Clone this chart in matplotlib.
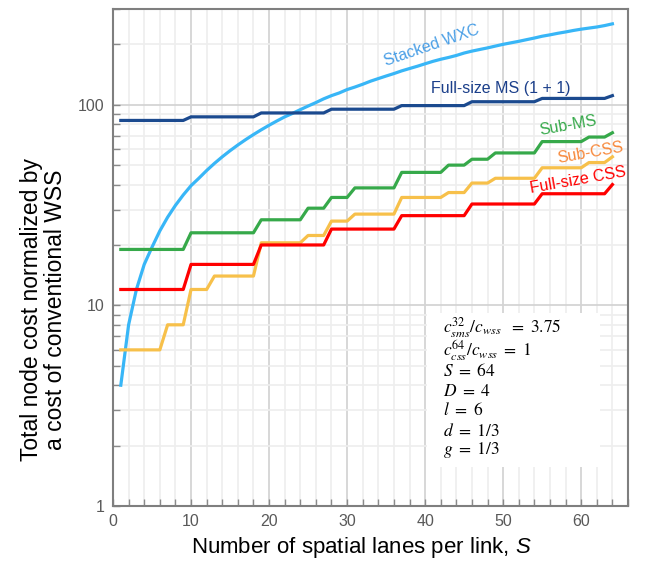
import matplotlib
matplotlib.use("Agg")
import matplotlib.pyplot as plt
from matplotlib.ticker import MultipleLocator, LogLocator, NullFormatter, FixedLocator
from matplotlib.patches import Rectangle

plt.rcParams['font.family'] = ['Liberation Sans', 'DejaVu Sans']
plt.rcParams['mathtext.fontset'] = 'custom'
plt.rcParams['mathtext.it'] = 'Liberation Sans:italic'
plt.rcParams['mathtext.rm'] = 'Liberation Sans'

S = list(range(1, 65))

full_css = [12]*9 + [16]*9 + [20]*9 + [24]*9 + [28]*9 + [32]*9 + [36]*9 + [40]
sub_css = ([6]*6 + [8]*3 + [12]*3 + [14]*6 + [20.5]*6 + [22.3]*3 + [26.3]*3 + [28.5]*6
           + [34.5]*6 + [36.5]*3 + [40.7]*3 + [43]*6 + [48.5]*6 + [51.5]*3 + [55])
sub_ms = ([19]*9 + [23]*9 + [26.7]*6 + [30.5]*3 + [34.5]*3 + [38.5]*6 + [46]*6 + [50]*3
          + [53.5]*3 + [57.5]*6 + [65.5]*6 + [69]*3 + [72.5])
full_ms = [83.5]*9 + [87]*9 + [91]*9 + [95]*9 + [99]*9 + [103.5]*9 + [107.5]*9 + [111]
stacked_wxc = [4, 8, 12, 16, 19.5, 23.5, 27.5, 31.5, 35.5, 39.5,
               43, 47, 51, 55, 59, 63, 67, 71, 75, 79,
               83, 87, 90.5, 94.5, 98.5, 102.5, 107, 111, 114.5, 119,
               122.5, 126.5, 131, 135, 139, 143, 147.5, 151.5, 155.5, 160,
               164.5, 168.5, 172, 176, 181, 185, 188.5, 192, 196, 200,
               203.5, 207, 211, 215, 219.5, 223, 227, 230.5, 234.5, 238,
               241, 244, 248, 253]

x_ticks = [0, 10, 20, 30, 40, 50, 60]
y_ticks = [1, 10, 100]
y_ticklabels = ['1', '10', '100']

params = [r'$c_{sms}^{32}/c_{wss}\ \ =\ 3.75$',
          r'$c_{css}^{64}/c_{wss}\ =\ 1$',
          r'$S\ =\ 64$',
          r'$D\ =\ 4$',
          r'$l\ =\ 6$',
          r'$d\ =\ 1/3$',
          r'$g\ =\ 1/3$']

fig = plt.figure(figsize=(6.47, 5.61), dpi=100)
ax = fig.add_axes([113/647, 1-506/561, (628-113)/647, (506-9)/561])

ax.set_yscale('log')
ax.set_xlim(0, 66)
ax.set_ylim(1, 300)

lw = 2.3
ax.plot(S, stacked_wxc, color='#38b6f7', lw=lw, zorder=5)
ax.plot(S, full_ms, color='#1b4a8f', lw=lw, zorder=5)
ax.plot(S, sub_ms, color='#36a94a', lw=lw, zorder=5)
ax.plot(S, sub_css, color='#f7c04a', lw=lw, zorder=5)
ax.plot(S, full_css, color='#ff0000', lw=lw, zorder=6)

# grids
ax.xaxis.set_major_locator(FixedLocator(x_ticks))
ax.xaxis.set_minor_locator(MultipleLocator(2))
ax.yaxis.set_major_locator(FixedLocator(y_ticks))
ax.yaxis.set_minor_locator(LogLocator(base=10, subs=range(2, 10)))
ax.yaxis.set_minor_formatter(NullFormatter())
ax.set_yticklabels(y_ticklabels)
ax.grid(which='major', color='#d4d4d4', lw=1.3, zorder=0)
ax.grid(which='minor', color='#eeeeee', lw=1.2, zorder=0)
ax.set_axisbelow(True)

for sp in ax.spines.values():
    sp.set_color('#7f7f7f')
    sp.set_linewidth(1.5)
ax.tick_params(which='both', direction='in', color='#8a8a8a', width=1.0,
               labelsize=11.5, labelcolor='#595959', top=False, right=False)
ax.tick_params(which='major', length=5, pad=6)
ax.tick_params(which='minor', length=5)

ax.set_xlabel('Number of spatial lanes per link, $\\mathit{S}$', fontsize=16)
ax.xaxis.set_label_coords(0.482, -0.058)
ax.set_ylabel('Total node cost normalized by\na cost of conventional WSS', fontsize=16.5,
              multialignment='center', linespacing=1.05)
ax.yaxis.set_label_coords(-0.09, 0.395)

# parameter box
ax.add_patch(Rectangle((0.61, 0.0785), 0.336, 0.31, transform=ax.transAxes,
                       facecolor='white', edgecolor='none', zorder=3))
ys = [0.358, 0.313, 0.272, 0.232, 0.194, 0.152, 0.112]
for t, yy in zip(params, ys):
    ax.text(0.641, yy, t, transform=ax.transAxes, fontsize=12.5, va='center',
            ha='left', zorder=4, math_fontfamily='stix')

# line labels
ax.text(40.9, 197, 'Stacked WXC', color='#4a9fe6', fontsize=11.5, rotation=19,
        ha='center', va='center', zorder=7)
ax.text(49.7, 120, 'Full-size MS (1 + 1)', color='#1b3f8a', fontsize=11.5,
        ha='center', va='center', zorder=7)
ax.text(58.3, 78.6, 'Sub-MS', color='#36a94a', fontsize=11.5, rotation=10,
        ha='center', va='center', zorder=7)
ax.text(61.2, 57.7, 'Sub-CSS', color='#f7883a', fontsize=11.5, rotation=10,
        ha='center', va='center', zorder=7)
ax.text(59.6, 41.9, 'Full-size CSS', color='#ff0000', fontsize=11.5, rotation=10,
        ha='center', va='center', zorder=7)

fig.savefig('out.png', dpi=100)
